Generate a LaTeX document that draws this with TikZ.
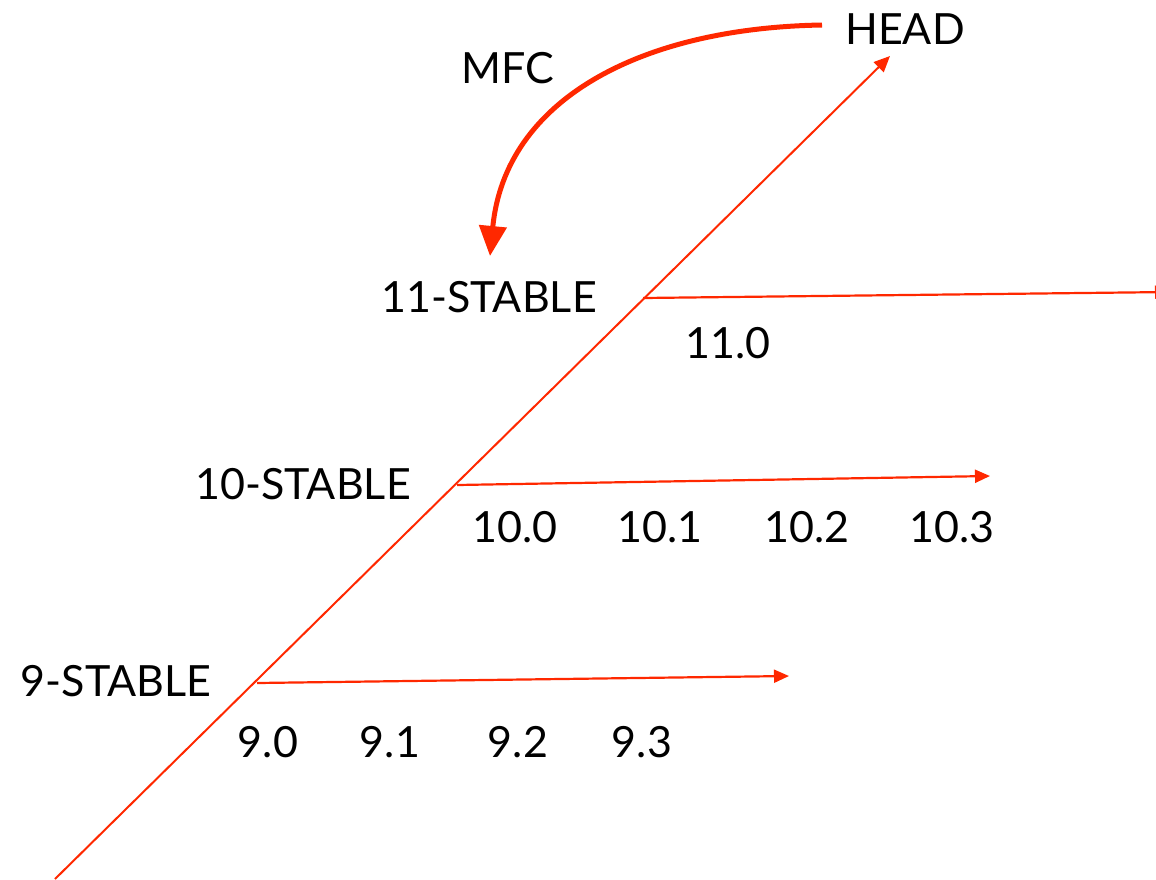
\documentclass[tikz,border=0pt]{standalone}
\usepackage{fontspec}
\setmainfont{Lato}
\usetikzlibrary{arrows.meta}
\definecolor{branchred}{RGB}{255,40,0}
\tikzset{
  lbl/.style={font=\fontsize{43}{50}\selectfont, text=black, inner sep=0pt, anchor=center},
  trunk/.style={draw=branchred, line width=2pt, -{Triangle[length=16pt,width=14pt]}},
  branch/.style={draw=branchred, line width=2.2pt, -{Triangle[length=15pt,width=13pt]}},
  merge/.style={draw=branchred, line width=5pt, -{Triangle[length=30pt,width=27pt]}},
}
\begin{document}
\begin{tikzpicture}[x=1pt,y=-1pt]
\useasboundingbox (0,0) rectangle (1156,879);
% trunk line
\coordinate (root) at (55,879);
\coordinate (tip) at (890,56);
\draw[trunk] (root) -- (tip);
% branch points on the trunk
\coordinate (b9) at (257,683);
\coordinate (b10) at (457,485);
\coordinate (b11) at (643,298);
\coordinate (e9) at (789,676);
\coordinate (e10) at (990,476);
\coordinate (e11) at (1170,292);
\draw[branch] (b9) -- (e9);
\draw[branch] (b10) -- (e10);
\draw[branch] (b11) -- (e11);
% labels
\node[lbl] (head) at (905,29) {HEAD};
\node[lbl] (mfc) at (508,68) {MFC};
\node[lbl] (s11) at (489,297) {11-STABLE};
\node[lbl] (s10) at (303,484) {10-STABLE};
\node[lbl] (s9) at (116,681) {9-STABLE};
\node[lbl] (v110) at (728,343) {11.0};
\node[lbl] (v100) at (515,527) {10.0};
\node[lbl] (v101) at (660,527) {10.1};
\node[lbl] (v102) at (807,527) {10.2};
\node[lbl] (v103) at (952,527) {10.3};
\node[lbl] (v90) at (268,742) {9.0};
\node[lbl] (v91) at (390,742) {9.1};
\node[lbl] (v92) at (518,742) {9.2};
\node[lbl] (v93) at (642,742) {9.3};
% merge-from-current arrow
\coordinate (mfcstart) at (822,25);
\coordinate (mfcend) at (490,256);
\draw[merge] (mfcstart) .. controls (640,28) and (505,100) .. (mfcend);
\end{tikzpicture}
\end{document}
